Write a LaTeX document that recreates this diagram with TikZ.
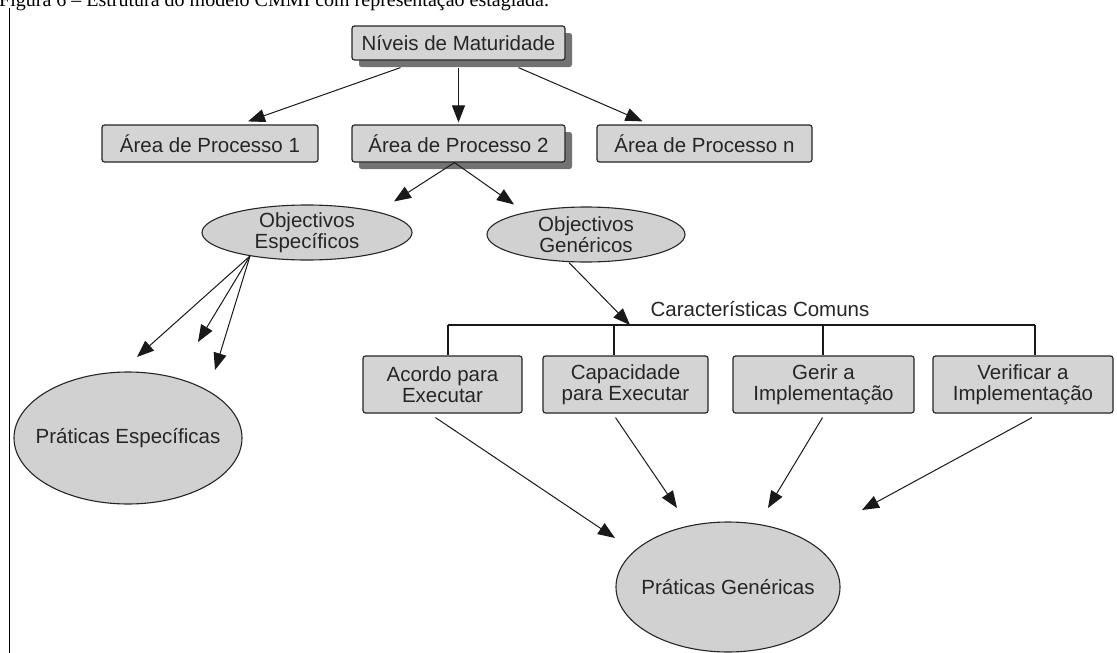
\documentclass[tikz,border=0pt]{standalone}
\usepackage{fontspec}
\setmainfont{Liberation Sans}
\newfontfamily\capfont{Liberation Serif}
\usetikzlibrary{arrows.meta,shapes.geometric,shadows}

\begin{document}
\begin{tikzpicture}[x=1pt,y=-1pt,
  every node/.style={font=\fontsize{20.5}{20.5}\selectfont, text=black!85, align=center, inner sep=0pt},
  box/.style={draw=black!85, line width=1.2pt, fill=black!17, rounded corners=2.5pt, minimum height=37pt},
  shadowed/.style={drop shadow={shadow xshift=7pt, shadow yshift=-7pt, fill=black!55, opacity=1}},
  oval/.style={draw=black!85, line width=1.1pt, fill=black!18, ellipse, inner xsep=-30pt, inner ysep=-8pt},
  link/.style={draw=black!90, line width=1pt, -{Triangle[length=17pt,width=13pt]}},
  bar/.style={draw=black!90, line width=1.1pt}]

\clip (0,0) rectangle (1117,653);
\fill[white] (0,0) rectangle (1117,653);

% caption line and left rule
\node[anchor=base west, font=\capfont\fontsize{20}{24}\selectfont, text=black] (cap) at (-1,6)
  {Figura 6 – Estrutura do modelo CMMI com representação estagiada.};
\coordinate (ruletop) at (9,8);
\coordinate (rulebot) at (9,653);
\draw[black, line width=0.9pt] (ruletop) -- (rulebot);

% top levels
\node[box, shadowed, minimum width=213pt, minimum height=34pt] (niveis) at (458.5,43) {Níveis de Maturidade};
\node[box, minimum width=216pt] (ap1) at (210,143.5) {Área de Processo 1};
\node[box, shadowed, minimum width=213pt] (ap2) at (458.5,143.5) {Área de Processo 2};
\node[box, minimum width=215pt] (apn) at (704.5,143.5) {Área de Processo n};

% goals
\node[oval, minimum width=210pt, minimum height=55pt] (oe) at (307,232.5) {Objectivos\\Específicos};
\node[oval, minimum width=198pt, minimum height=55pt] (og) at (586,234.5) {Objectivos\\Genéricos};

% common features
\node (cc) at (760,309) {Características Comuns};
\node[box, minimum width=159pt, minimum height=57pt] (b1) at (442.5,384.5) {Acordo para\\Executar};
\node[box, minimum width=165pt, minimum height=57pt] (b2) at (625.5,384.5) {Capacidade\\para Executar};
\node[box, minimum width=181pt, minimum height=57pt] (b3) at (823.5,384.5) {Gerir a\\Implementação};
\node[box, minimum width=180pt, minimum height=57pt] (b4) at (1023,384.5) {Verificar a\\Implementação};

% practices
\node[oval, minimum width=228pt, minimum height=132pt] (pe) at (128,438) {Práticas Específicas};
\node[oval, minimum width=224pt, minimum height=130pt] (pg) at (728,587) {Práticas Genéricas};

% bracket joining the common features
\coordinate (d1) at (448,325);
\coordinate (d2) at (614,325);
\coordinate (d3) at (823,325);
\coordinate (d4) at (1035,325);
\coordinate (cchit) at (630,325);
\draw[bar] (d1) -- (d4);
\draw[bar] (d1) -- (d1 |- b1.north);
\draw[bar] (d2) -- (d2 |- b2.north);
\draw[bar] (d3) -- (d3 |- b3.north);
\draw[bar] (d4) -- (d4 |- b4.north);

% connectors
\draw[link] ([xshift=-58pt,yshift=-7pt]niveis.south) -- ([xshift=38pt,yshift=3pt]ap1.north);
\draw[link] ([yshift=-7pt]niveis.south) -- ([yshift=2pt]ap2.north);
\draw[link] ([xshift=60pt,yshift=-7pt]niveis.south) -- ([xshift=-62pt,yshift=3pt]apn.north);

\draw[link] ([xshift=-4pt]ap2.south) -- ([xshift=87pt,yshift=3pt]oe.north);
\draw[link] ([xshift=-4pt]ap2.south) -- ([xshift=-72pt,yshift=2pt]og.north);

\draw[link] ([xshift=-17pt]og.south) -- (cchit);

\coordinate (oefoot) at (250,256);
\coordinate (t1) at (137,357);
\coordinate (t2) at (198,342);
\coordinate (t3) at (215,370);
\draw[link] (oefoot) -- (t1);
\draw[link] (oefoot) -- (t2);
\draw[link] (oefoot) -- (t3);

\coordinate (g1) at (615,538);
\coordinate (g2) at (677,508);
\coordinate (g3) at (768,508);
\coordinate (g4) at (862,510);
\draw[link] ([xshift=-7pt,yshift=-4pt]b1.south) -- (g1);
\draw[link] ([xshift=-10pt,yshift=-4pt]b2.south) -- (g2);
\draw[link] ([xshift=-1pt,yshift=-4pt]b3.south) -- (g3);
\draw[link] ([xshift=9pt,yshift=-4pt]b4.south) -- (g4);
\end{tikzpicture}
\end{document}
